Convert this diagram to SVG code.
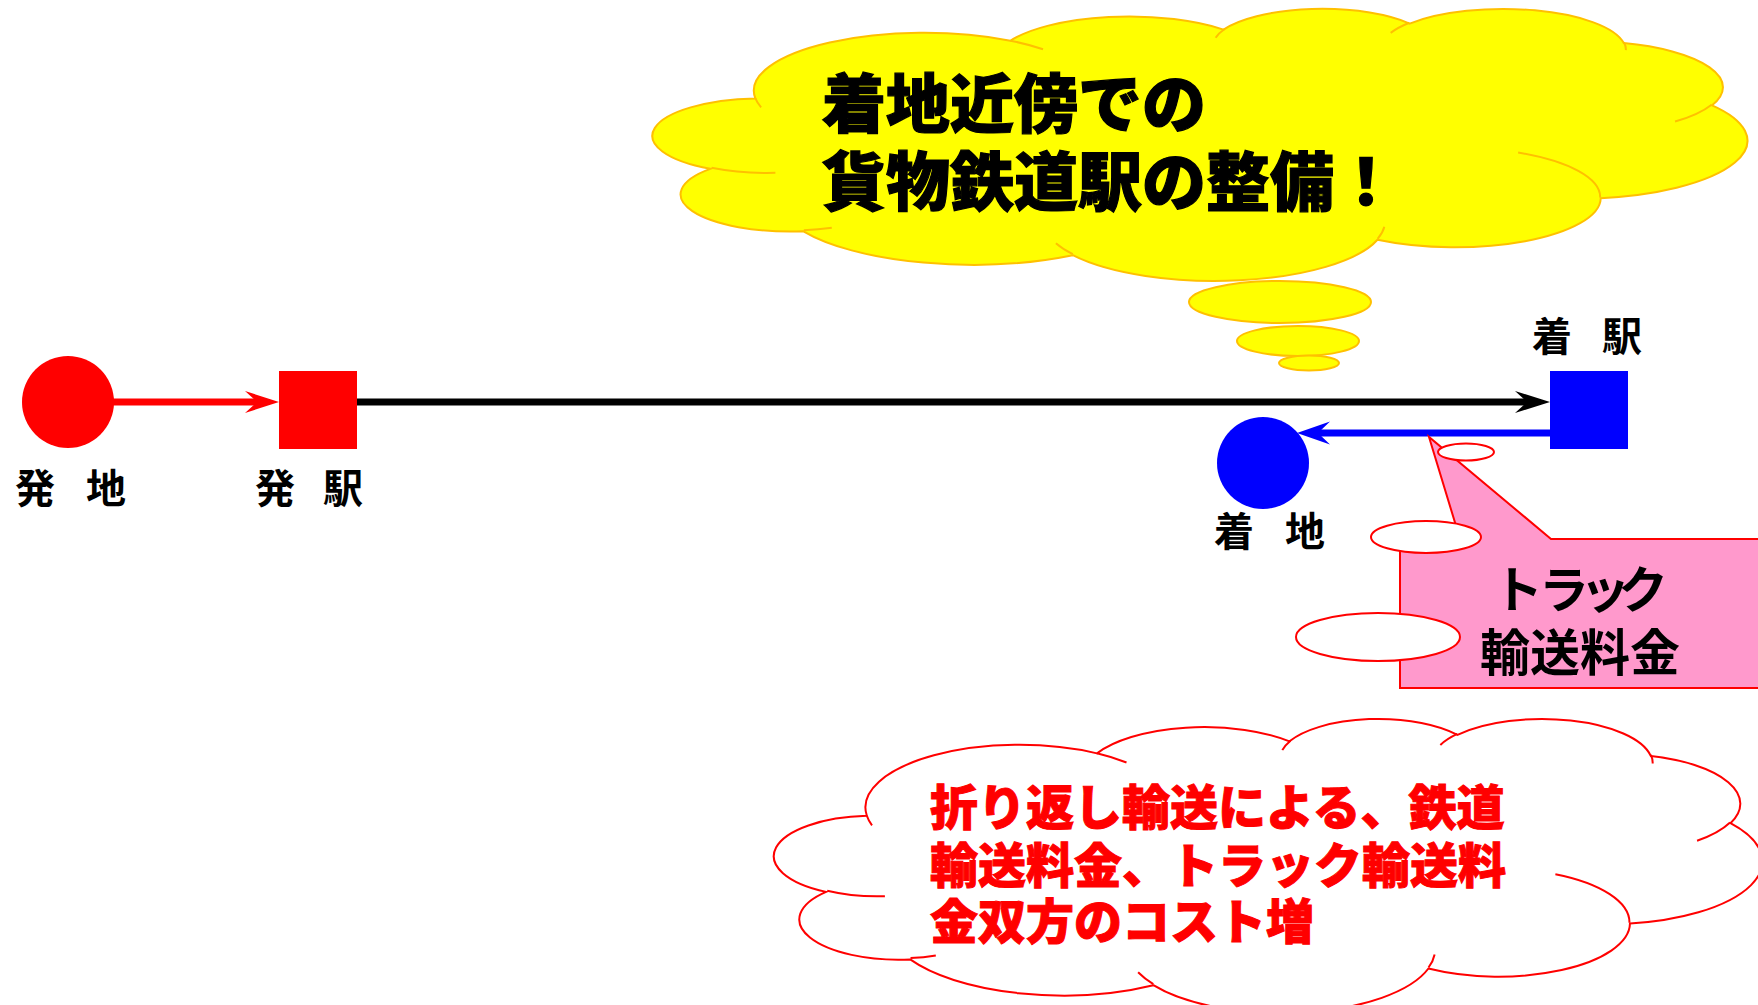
<svg xmlns="http://www.w3.org/2000/svg" width="1758" height="1005" viewBox="0 0 1758 1005">
<style>
.lbl{font-family:"Noto Sans CJK JP","Noto Sans CJK SC",sans-serif;font-weight:700;font-size:40px;fill:#000}
.cloudY{fill:#ffff00;stroke:#ffc000;stroke-width:2}
.innerY{fill:none;stroke:#ffc000;stroke-width:2}
.cloudR{fill:#fff;stroke:#ff0000;stroke-width:2}
.innerR{fill:none;stroke:#ff0000;stroke-width:2}
.nss{vector-effect:non-scaling-stroke}
.tailY{fill:#ffff00;stroke:#ffc000;stroke-width:2}
.tailR{fill:#fff;stroke:#ff0000;stroke-width:2}
.big{font-family:"Noto Sans CJK JP","Noto Sans CJK SC",sans-serif;font-weight:900}
.call{font-family:"Noto Sans CJK JP","Noto Sans CJK SC",sans-serif;font-weight:700;font-size:50px;fill:#000}
</style>
<defs>
<marker id="arrRed" markerUnits="userSpaceOnUse" viewBox="0 0 40 24" markerWidth="40" markerHeight="24" refX="14" refY="12" orient="auto"><path d="M0,1 L34,12 L0,23 L12,12 Z" fill="#ff0000"/></marker>
<marker id="arrBlack" markerUnits="userSpaceOnUse" viewBox="0 0 40 24" markerWidth="40" markerHeight="24" refX="14" refY="12" orient="auto"><path d="M0,1 L35,12 L0,23 L12,12 Z" fill="#000"/></marker>
<marker id="arrBlue" markerUnits="userSpaceOnUse" viewBox="0 0 40 24" markerWidth="40" markerHeight="24" refX="14" refY="12" orient="auto"><path d="M0,0.5 L33,12 L0,23.5 L12,12 Z" fill="#0000ff"/></marker>
</defs>
<rect width="1758" height="1005" fill="#fff"/>

<g id="connectors">
<line x1="112" y1="402" x2="259" y2="402" stroke="#ff0000" stroke-width="7" marker-end="url(#arrRed)"/>
<line x1="357" y1="402" x2="1529" y2="402" stroke="#000" stroke-width="7" marker-end="url(#arrBlack)"/>
<line x1="1550" y1="433" x2="1316" y2="433" stroke="#0000ff" stroke-width="7" marker-end="url(#arrBlue)"/>
</g>

<g id="origin">
<circle cx="68" cy="402" r="46" fill="#ff0000"/>
<text class="lbl" x="15 55 86" y="503">発 地</text>
</g>
<g id="dep-station">
<rect x="279" y="371" width="78" height="78" fill="#ff0000"/>
<text class="lbl" x="255 295 323" y="503">発 駅</text>
</g>
<g id="arr-station">
<rect x="1550" y="371" width="78" height="78" fill="#0000ff"/>
<text class="lbl" x="1532 1572 1602" y="351">着 駅</text>
</g>
<g id="destination">
<circle cx="1263" cy="463" r="46" fill="#0000ff"/>
<text class="lbl" x="1214 1254 1285" y="546">着 地</text>
</g>

<g id="truck-callout">
<path d="M1400,539 L1460,539 L1429,437 L1551,539 L1762,539 L1762,688 L1400,688 Z" fill="#ff99cc" stroke="#ff0000" stroke-width="2"/>
<text class="call" x="1493 1539 1580 1618" y="608">トラック</text>
<text class="call" x="1580" y="671" text-anchor="middle">輸送料金</text>
</g>

<g id="station-cloud">
<g transform="translate(657,8) scale(0.025231,0.0062963)">
<path class="cloudY nss" d="M3900,14370 A6753,9190 0 0 1 14004,5201 A5333,7267 0 0 1 22455,3429 A4365,5945 0 0 1 29831,2476 A4857,6595 0 0 1 38316,5572 A5333,7273 0 0 1 41816,15456 A6775,9220 0 0 1 37403,30201 A5785,7867 0 0 1 28555,36812 A6752,9215 0 0 1 16480,39264 A7720,10543 0 0 1 5804,35471 A4360,5918 0 0 1 2113,25548 A4345,5945 0 0 1 3900,14370 Z"/>
<path class="innerY nss" d="M4693,26177 A4345,5945 0 0 1 2160,25380 M6928,34899 A4360,5918 0 0 1 5819,35281 M16478,39090 A6752,9215 0 0 1 15810,37349 M28827,34751 A6752,9215 0 0 1 28560,36660 M34129,22954 A5785,7867 0 0 1 37381,30090 M41798,15354 A5333,7273 0 0 1 40349,18032 M38324,5426 A4857,6595 0 0 1 38400,6690 M29078,3952 A4857,6595 0 0 1 29820,2340 M22141,4720 A4365,5945 0 0 1 22500,3331 M14000,5192 A6753,9190 0 0 1 15300,6541 M4127,15789 A6753,9190 0 0 1 3900,14370"/>
</g>
<ellipse class="tailY" cx="1280" cy="302" rx="91" ry="21"/>
<ellipse class="tailY" cx="1298" cy="341" rx="61" ry="15"/>
<ellipse class="tailY" cx="1309" cy="363" rx="30" ry="7.5"/>
<text class="big" font-size="64" fill="#000" stroke="#000" stroke-width="1.2" x="822" y="127">着地近傍での</text>
<text class="big" font-size="64" fill="#000" stroke="#000" stroke-width="1.2" x="822" y="205">貨物鉄道駅の整備！</text>
</g>

<g id="cost-cloud">
<g transform="translate(778,718) scale(0.022778,0.0068056)">
<path class="cloudR nss" d="M3900,14370 A6753,9190 0 0 1 14004,5201 A5333,7267 0 0 1 22455,3429 A4365,5945 0 0 1 29831,2476 A4857,6595 0 0 1 38316,5572 A5333,7273 0 0 1 41816,15456 A6775,9220 0 0 1 37403,30201 A5785,7867 0 0 1 28555,36812 A6752,9215 0 0 1 16480,39264 A7720,10543 0 0 1 5804,35471 A4360,5918 0 0 1 2113,25548 A4345,5945 0 0 1 3900,14370 Z"/>
<path class="innerR nss" d="M4693,26177 A4345,5945 0 0 1 2160,25380 M6928,34899 A4360,5918 0 0 1 5819,35281 M16478,39090 A6752,9215 0 0 1 15810,37349 M28827,34751 A6752,9215 0 0 1 28560,36660 M34129,22954 A5785,7867 0 0 1 37381,30090 M41798,15354 A5333,7273 0 0 1 40349,18032 M38324,5426 A4857,6595 0 0 1 38400,6690 M29078,3952 A4857,6595 0 0 1 29820,2340 M22141,4720 A4365,5945 0 0 1 22500,3331 M14000,5192 A6753,9190 0 0 1 15300,6541 M4127,15789 A6753,9190 0 0 1 3900,14370"/>
</g>
<ellipse class="tailR" cx="1378" cy="637" rx="82" ry="24"/>
<ellipse class="tailR" cx="1426" cy="537" rx="55" ry="16"/>
<ellipse class="tailR" cx="1466" cy="452" rx="28" ry="8.5"/>
<text class="big" font-size="48" fill="#ff0000" stroke="#ff0000" stroke-width="1" x="930" y="825">折り返し輸送による、鉄道</text>
<text class="big" font-size="48" fill="#ff0000" stroke="#ff0000" stroke-width="1" x="930" y="883">輸送料金、トラック輸送料</text>
<text class="big" font-size="48" fill="#ff0000" stroke="#ff0000" stroke-width="1" x="930" y="939">金双方のコスト増</text>
</g>
</svg>
